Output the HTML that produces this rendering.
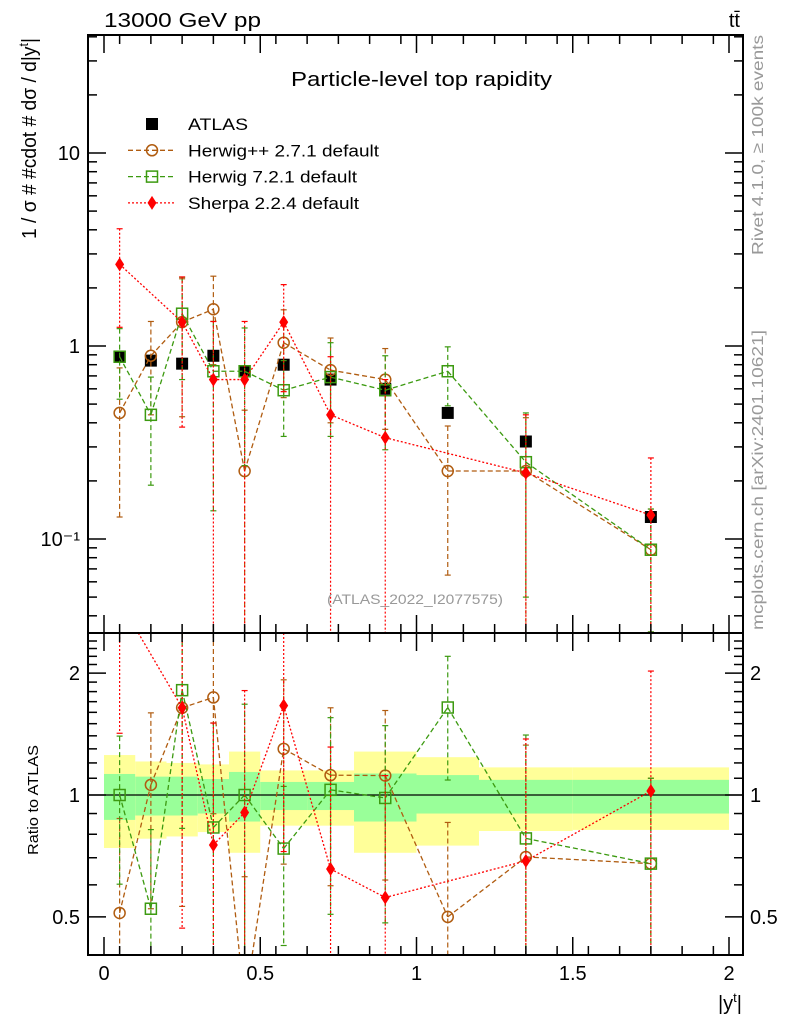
<!DOCTYPE html>
<html><head><meta charset="utf-8">
<style>
html,body{margin:0;padding:0;background:#fff;width:786px;height:1024px;overflow:hidden;}
svg{display:block;font-family:"Liberation Sans",sans-serif;}
</style></head>
<body>
<svg id="chart" width="786" height="1024" viewBox="0 0 786 1024">
<defs>
<clipPath id="cm"><rect x="88" y="35" width="655" height="598"/></clipPath>
<clipPath id="cr"><rect x="88" y="633" width="655" height="322"/></clipPath>
</defs>
<g id="bands" clip-path="url(#cr)"></g>
<g id="marks"></g>
<rect x="88" y="35" width="655" height="598" fill="none" stroke="#000" stroke-width="2"/>
<rect x="88" y="633" width="655" height="322" fill="none" stroke="#000" stroke-width="2"/>
<g id="axes"></g>
<text x="104" y="27" font-size="20" textLength="157" lengthAdjust="spacingAndGlyphs">13000 GeV pp</text>
<text x="740" y="27" font-size="20" text-anchor="end">tt̄</text>
<text x="291" y="86" font-size="20" textLength="261" lengthAdjust="spacingAndGlyphs">Particle-level top rapidity</text>
<text x="327" y="604" font-size="14" fill="#999" textLength="176" lengthAdjust="spacingAndGlyphs">(ATLAS_2022_I2077575)</text>
<text transform="translate(36,239) rotate(-90)" font-size="20" textLength="201" lengthAdjust="spacingAndGlyphs">1 / σ # #cdot # dσ / d|y<tspan font-size="13" dy="-8">t</tspan><tspan dy="8">|</tspan></text>
<text transform="translate(38,855) rotate(-90)" font-size="15" textLength="110" lengthAdjust="spacingAndGlyphs">Ratio to ATLAS</text>
<text x="742" y="1010" font-size="20" text-anchor="end">|y<tspan font-size="13" dy="-8">t</tspan><tspan dy="8">|</tspan></text>
<text transform="translate(763,255) rotate(-90)" font-size="16" fill="#999" textLength="220" lengthAdjust="spacingAndGlyphs">Rivet 4.1.0, ≥ 100k events</text>
<text transform="translate(763,630) rotate(-90)" font-size="16" fill="#999" textLength="300" lengthAdjust="spacingAndGlyphs">mcplots.cern.ch [arXiv:2401.10621]</text>
<g id="legend"></g>
</svg>
<script>
const binLo = [0,0.1,0.2,0.3,0.4,0.5,0.65,0.8,1.0,1.2,1.5];
const binHi = [0.1,0.2,0.3,0.4,0.5,0.65,0.8,1.0,1.2,1.5,2.0];
const xCenters = [0.05,0.15,0.25,0.35,0.45,0.575,0.725,0.9,1.1,1.35,1.75];
const atlasVals = [0.88,0.84,0.81,0.89,0.74,0.80,0.67,0.60,0.45,0.32,0.13];
const hppVals = [0.45,0.89,1.33,1.55,0.225,1.04,0.75,0.67,0.225,0.225,0.088];
const hppErr = [0.32,0.45,0.9,0.75,0.24,0.5,0.35,0.3,0.16,0.2,0.055];
const h7Vals = [0.88,0.44,1.47,0.74,0.74,0.59,0.69,0.59,0.74,0.25,0.088];
const h7Err = [0.35,0.25,0.8,0.6,0.5,0.25,0.35,0.3,0.25,0.2,0.055];
const shVals = [2.65,null,1.33,0.67,0.67,1.33,0.44,0.335,null,0.22,0.133];
const shErr = [1.4,null,0.95,0.67,0.67,0.75,0.44,0.335,null,0.22,0.13];
const yelUp = [1.255,1.21,1.2,1.19,1.28,1.15,1.15,1.28,1.24,1.17,1.17];
const yelDn = [0.74,0.78,0.79,0.81,0.72,0.84,0.84,0.72,0.75,0.815,0.82];
const grnUp = [1.127,1.11,1.11,1.095,1.14,1.077,1.077,1.13,1.12,1.09,1.09];
const grnDn = [0.868,0.89,0.89,0.9,0.86,0.918,0.918,0.86,0.9,0.9,0.9];
const mainTicks = [10,1,0.1];
const mainTickLabels = ["10","1","10⁻¹"];
const ratioTicks = [2,1,0.5];
const ratioTickLabels = ["2","1","0.5"];
const xTicks = [0,0.5,1,1.5,2];
const xTickLabels = ["0","0.5","1","1.5","2"];

const NS="http://www.w3.org/2000/svg";
const X = v => 104 + 312.5*v;
const YM = v => 346 - 193*Math.log10(Math.max(v,1e-4));
const YR = v => 795 - 405*Math.log10(Math.max(v,1e-4));
function mk(tag, attrs, parent){const e=document.createElementNS(NS,tag);for(const k in attrs)e.setAttribute(k,attrs[k]);parent.appendChild(e);return e;}

const bands=document.getElementById('bands');
binLo.forEach((lo,i)=>{
  const r1=mk('rect',{x:X(lo),y:YR(yelUp[i]),width:X(binHi[i])-X(lo),height:YR(yelDn[i])-YR(yelUp[i]),fill:'#ffff99'},bands);
  
  
  const r2=mk('rect',{x:X(lo),y:YR(grnUp[i]),width:X(binHi[i])-X(lo),height:YR(grnDn[i])-YR(grnUp[i]),fill:'#99ff99'},bands);
  
  
});
const ul=mk('line',{x1:88,x2:743,y1:YR(1),y2:YR(1),stroke:'#000','stroke-width':1.2},bands);



const marks=document.getElementById('marks');
const gm=mk('g',{'clip-path':'url(#cm)'},marks);
const gr=mk('g',{'clip-path':'url(#cr)'},marks);

function marker(g,type,x,y,col){
  let e;
  if(type==='circle') e=mk('circle',{cx:x,cy:y,r:5.5,fill:'none',stroke:col,'stroke-width':1.5},g);
  else if(type==='square') e=mk('rect',{x:x-5.5,y:y-5.5,width:11,height:11,fill:'none',stroke:col,'stroke-width':1.5},g);
  else if(type==='filled') e=mk('rect',{x:x-6,y:y-6,width:12,height:12,fill:'#000'},g);
  else e=mk('path',{d:`M${x},${y-7}L${x+4.5},${y}L${x},${y+7}L${x-4.5},${y}Z`,fill:col},g);
  
  
}
function clipLine(p,q,top,bot){
  let [x1,y1]=p,[x2,y2]=q;
  if((y1<top&&y2<top)||(y1>bot&&y2>bot))return null;
  const ix=(yy)=>x1+(x2-x1)*(yy-y1)/(y2-y1);
  let a=[x1,y1],b=[x2,y2];
  if(y1<top)a=[ix(top),top]; else if(y1>bot)a=[ix(bot),bot];
  if(y2<top)b=[ix(top),top]; else if(y2>bot)b=[ix(bot),bot];
  return [a,b];
}
function series(name,vals,errs,col,dash,type,ratio){
  const g=ratio?gr:gm, Y=ratio?YR:YM;
  const top=ratio?633:35, bot=ratio?955:633;
  const v=vals.map((d,i)=>d==null?null:(ratio?d/atlasVals[i]:d));
  const er=errs?errs.map((d,i)=>d==null?null:(ratio?d/atlasVals[i]:d)):null;
  let pts=[];
  v.forEach((d,i)=>{if(d!=null)pts.push([X(xCenters[i]),Y(d)]);});
  if(dash){
    for(let k=0;k<pts.length-1;k++){
      const s=clipLine(pts[k],pts[k+1],top,bot);
      if(!s)continue;
      const l=mk('line',{x1:s[0][0],y1:s[0][1],x2:s[1][0],y2:s[1][1],stroke:col,'stroke-width':1.3,'stroke-dasharray':dash},g);
      
      
    }
  }
  v.forEach((d,i)=>{
    if(d==null)return;
    const x=X(xCenters[i]);
    const yv=Y(d);
    if(er){
      const lo=d-er[i], hi=d+er[i];
      const y1=Math.max(Y(hi),top), y2=lo>0?Math.min(Y(lo),bot):bot;
      if(y2>y1){
        const b=mk('line',{x1:x,x2:x,y1:y1,y2:y2,stroke:col,'stroke-width':1.2,'stroke-dasharray':dash||'none'},g);
        
        
      }
      [hi,lo].forEach(t=>{if(t>0&&Y(t)>top&&Y(t)<bot){const c=mk('line',{x1:x-3,x2:x+3,y1:Y(t),y2:Y(t),stroke:col,'stroke-width':1.2},g);
        
        }});
    }
    if(yv>top-8&&yv<bot+8) marker(g,type,x,yv,col);
  });
}
[false,true].forEach(r=>{
  if(!r) series('atlas',atlasVals,null,'#000',null,'filled',false);
  series('herwigpp',hppVals,hppErr,'#b05c10','5,3','circle',r);
  series('herwig7',h7Vals,h7Err,'#3c9a10','5,3','square',r);
  series('sherpa',shVals,shErr,'#ff0000','2,2','diamond',r);
});

const ax=document.getElementById('axes');
function tick(x1,y1,x2,y2,n){const t=mk('line',{x1,y1,x2,y2,stroke:'#000','stroke-width':1.5},ax);}
function label(x,y,s,anchor,size,n){const t=mk('text',{x,y,'font-size':size,'text-anchor':anchor},ax);t.textContent=s;}
mainTicks.forEach((v,i)=>{const y=YM(v);tick(88,y,106,y,'y-major-tick');tick(725,y,743,y,'y-major-tick-right');label(80,y+7,mainTickLabels[i],'end',20,'y-tick-label');});
for(let d=-2;d<=1;d++)for(let m=2;m<=9;m++){const v=m*Math.pow(10,d);const y=YM(v);if(y>36&&y<632){tick(88,y,97,y,'y-minor-tick');tick(734,y,743,y,'y-minor-tick-right');}}
ratioTicks.forEach((v,i)=>{const y=YR(v);tick(88,y,106,y,'ratio-major-tick');tick(725,y,743,y,'ratio-major-tick-right');label(80,y+7,ratioTickLabels[i],'end',20,'ratio-tick-label');label(750,y+7,ratioTickLabels[i],'start',20,'ratio-tick-label-right');});
for(let v=0.5;v<=2.5;v+=0.1){const y=YR(v);if(y>634&&y<954&&Math.abs(v-1)>0.01&&Math.abs(v-2)>0.01&&Math.abs(v-0.5)>0.01){tick(88,y,97,y,'ratio-minor-tick');tick(734,y,743,y,'ratio-minor-tick-right');}}
xTicks.forEach((v,i)=>{const x=X(v);tick(x,955,x,937,'x-major-tick');tick(x,633,x,651,'x-major-tick-ratio-top');tick(x,633,x,615,'x-major-tick-main');tick(x,35,x,53,'x-major-tick-top');label(x,980,xTickLabels[i],'middle',20,'x-tick-label');});
for(let v=-0.05;v<2.06;v+=0.1){const x=X(v);if(x>89&&x<742){tick(x,955,x,946,'x-minor-tick');tick(x,633,x,642,'x-minor-tick');tick(x,633,x,624,'x-minor-tick');tick(x,35,x,44,'x-minor-tick');}}

const lg=document.getElementById('legend');
const entries=[['ATLAS','#000',null,'filled',60],['Herwig++ 2.7.1 default','#b05c10','5,3','circle',191],['Herwig 7.2.1 default','#3c9a10','5,3','square',169],['Sherpa 2.2.4 default','#ff0000','2,2','diamond',171]];
entries.forEach((e,i)=>{
  const y=124+26.3*i;
  const g=mk('g',{},lg);
  
  
  if(e[2]){const l=mk('line',{x1:128,x2:176,y1:y,y2:y,stroke:e[1],'stroke-width':1.3,'stroke-dasharray':e[2]},g);}
  marker(g,e[3],152,y,e[1]);
  const t=mk('text',{x:188,y:y+6,'font-size':17,textLength:e[4],lengthAdjust:'spacingAndGlyphs'},g);t.textContent=e[0];
  
  
});
</script>
</body></html>
